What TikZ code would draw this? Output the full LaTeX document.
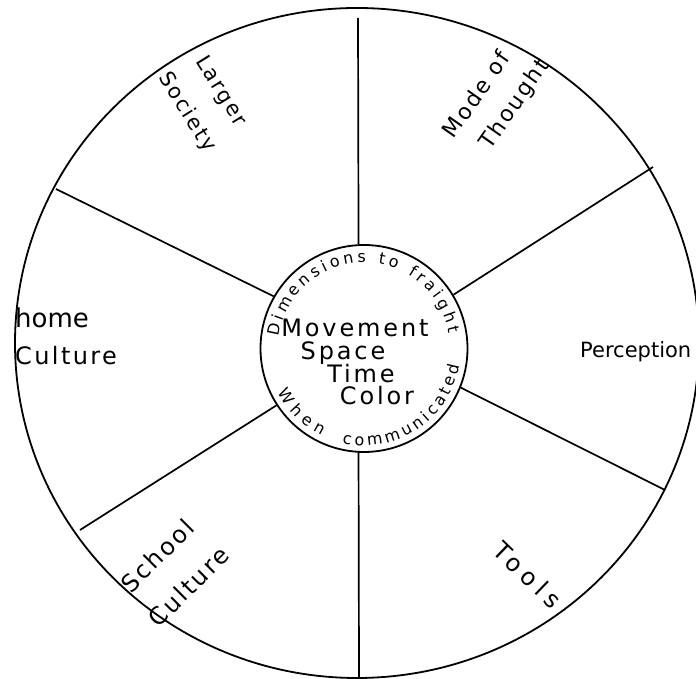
\documentclass[tikz,border=0pt]{standalone}
\usepackage{fontspec}
\setmainfont{DejaVu Sans}
\newfontfamily\handfont[LetterSpace=10]{DejaVu Sans}
\newfontfamily\handwide[LetterSpace=25]{DejaVu Sans}
\newfontfamily\handcenter[LetterSpace=12]{DejaVu Sans}
\newcommand\ringfont{\fontsize{16}{18}\selectfont}
\usetikzlibrary{shapes.geometric,decorations.text}
\begin{document}
\begin{tikzpicture}[x=1pt,y=1pt,
  ink/.style={line width=1.8pt},
  spoke/.style={line width=1.7pt},
  lbl/.style={inner sep=0pt},
  midtext/.style={lbl, anchor=base, font=\handcenter\fontsize{24}{28}\selectfont},
  ringtext/.style={decorate, decoration={text along path, text align={fit to path}}}
]
\useasboundingbox (0,0) rectangle (696,679);
\fill[white] (0,0) rectangle (696,679);

% outer rim and hub
\node[draw, ink, ellipse, minimum width=684pt, minimum height=670pt, inner sep=0pt] (rim) at (357,336) {};
\node[draw, ink, circle, minimum size=207pt, inner sep=0pt] (hub) at (364,330.5) {};

% outer ends of spokes
\coordinate (o1) at (358,661);
\coordinate (o2) at (359,2);
\coordinate (o3) at (56,490);
\coordinate (o4) at (653,512);
\coordinate (o5) at (665,189);
\coordinate (o6) at (80,149);

\draw[spoke] (hub.93) -- (o1);
\draw[spoke] (hub.267) -- (o2);
\draw[spoke] (hub.150) -- (o3);
\draw[spoke] (hub.31) -- (o4);
\draw[spoke] (hub.-22) -- (o5);
\draw[spoke] (hub.213) -- (o6);

% centre text
\node[midtext] (mv) at (355,342) {Movement};
\node[midtext] (sp) at (343,319) {Space};
\node[midtext] (tm) at (361,296) {Time};
\node[midtext] (cl) at (377,274) {Color};

% ring text
\path[ringtext, decoration={text={|\ringfont|Dimensions to fraight}}]
  ([shift={(172:86)}]hub.center) arc[start angle=172, end angle=10, radius=86];
\path[ringtext, decoration={text={|\ringfont|When}}]
  ([shift={(207:97)}]hub.center) arc[start angle=207, end angle=244, radius=97];
\path[ringtext, decoration={text={|\ringfont|communicated}}]
  ([shift={(257:97)}]hub.center) arc[start angle=257, end angle=350, radius=97];

% sector labels
\node[lbl, rotate=-58, align=center, font=\handfont\fontsize{21}{40}\selectfont] (larger) at (203.5,577) {Larger\\Society};
\node[lbl, rotate=55, align=left, font=\handfont\fontsize{22}{36}\selectfont] (mode) at (497,580) {Mode of\\\hspace*{11.5pt}Thought};
\node[lbl, anchor=base west, font=\fontsize{26}{30}\selectfont] (home) at (15,351) {home};
\node[lbl, anchor=base west, font=\handfont\fontsize{24}{28}\selectfont] (hculture) at (15,314) {Culture};
\node[lbl, anchor=base west, font=\fontsize{21}{24}\selectfont] (perc) at (580,321) {Perception};
\node[lbl, rotate=45, align=center, font=\handfont\fontsize{24}{44}\selectfont] (school) at (173,108) {School\\Culture};
\node[lbl, rotate=-44, font=\handwide\fontsize{24}{28}\selectfont] (tools) at (528,104) {Tools};
\end{tikzpicture}
\end{document}
